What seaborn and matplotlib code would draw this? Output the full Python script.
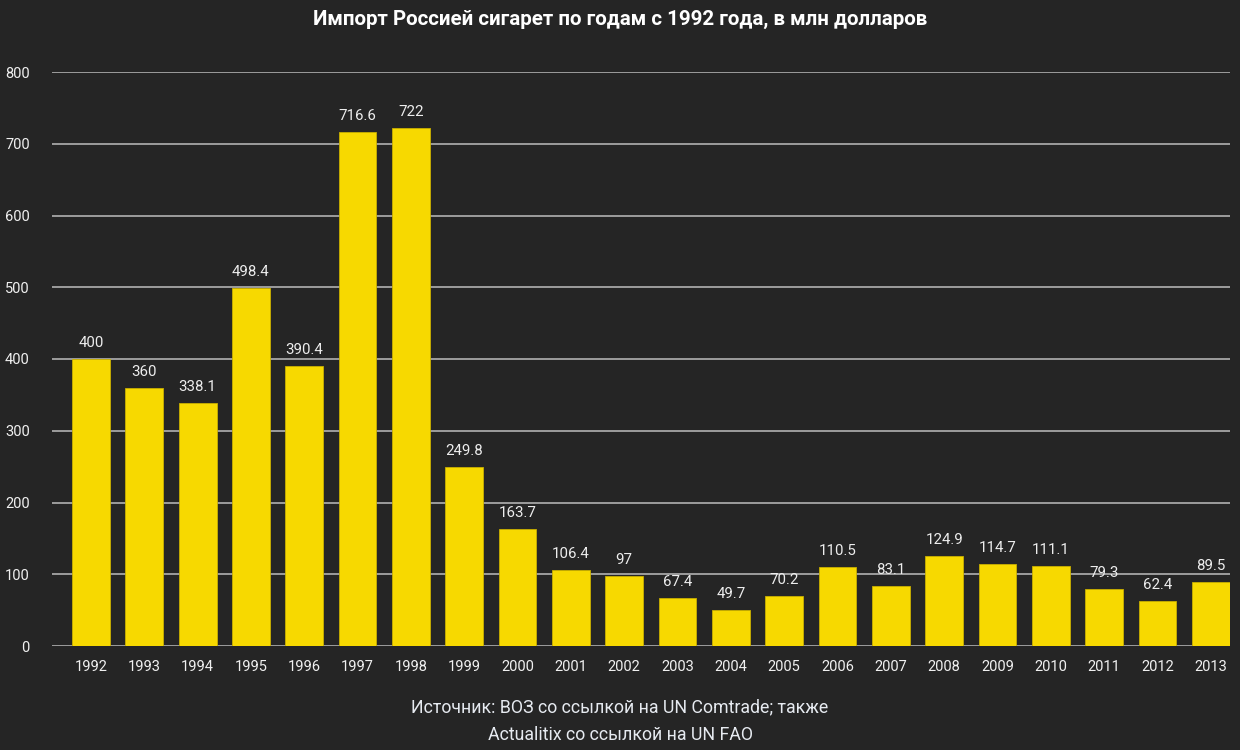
import matplotlib
matplotlib.use("Agg")
import matplotlib.pyplot as plt
import seaborn as sns
import pandas as pd

years = ["1992", "1993", "1994", "1995", "1996", "1997", "1998", "1999", "2000", "2001", "2002",
         "2003", "2004", "2005", "2006", "2007", "2008", "2009", "2010", "2011", "2012", "2013"]
values = [400, 360, 338.1, 498.4, 390.4, 716.6, 722, 249.8, 163.7, 106.4, 97,
          67.4, 49.7, 70.2, 110.5, 83.1, 124.9, 114.7, 111.1, 79.3, 62.4, 89.5]
labels = ["400", "360", "338.1", "498.4", "390.4", "716.6", "722", "249.8", "163.7", "106.4", "97",
          "67.4", "49.7", "70.2", "110.5", "83.1", "124.9", "114.7", "111.1", "79.3", "62.4", "89.5"]
yticks = [0, 100, 200, 300, 400, 500, 600, 700, 800]

title = "Импорт Россией сигарет по годам с 1992 года, в млн долларов"
source_lines = ["Источник: ВОЗ со ссылкой на UN Comtrade; также",
                "Actualitix со ссылкой на UN FAO"]

BG = "#252525"
BAR = "#F7D900"
GRID = "#BDBDBD"

sns.set_theme(style="dark")
plt.rcParams["font.family"] = ["Roboto", "DejaVu Sans"]

df = pd.DataFrame({"year": years, "value": values})

fig = plt.figure(figsize=(12.4, 7.5), dpi=100, facecolor=BG)
ax = fig.add_axes([52/1240, 1 - 646/750, (1230 - 52)/1240, (646 - 72)/750])
ax.set_facecolor(BG)

sns.barplot(data=df, x="year", y="value", color=BAR, saturation=1, width=0.71,
            edgecolor="#C9B000", linewidth=0.6, ax=ax, zorder=3)

ax.set_ylim(0, 800)
ax.set_xlim(-0.73, 21.36)
ax.set_yticks(yticks)
ax.yaxis.grid(True, color=GRID, linewidth=1.1, zorder=0)
ax.xaxis.grid(False)
for s in ax.spines.values():
    s.set_visible(False)
ax.set_xlabel("")
ax.set_ylabel("")
ax.tick_params(axis="y", length=0, pad=16, labelsize=10.5, labelcolor="#F0F0F0")
ax.tick_params(axis="x", length=0, pad=10, labelsize=10.5, labelcolor="#F0F0F0")

for i, (v, t) in enumerate(zip(values, labels)):
    ax.annotate(t, (i, v), xytext=(0, 6.5), textcoords="offset points",
                ha="center", va="bottom", fontsize=10.8, color="#EDEDED", zorder=4)

fig.text(0.5, 1 - 19/750, title, ha="center", va="center", fontsize=14.8,
         fontweight="bold", color="white")
fig.text(0.5, 1 - 707/750, source_lines[0], ha="center", va="center", fontsize=12.8,
         color="#E6EAF0")
fig.text(0.5, 1 - 735/750, source_lines[1], ha="center", va="center", fontsize=12.8,
         color="#E6EAF0")

fig.savefig("out.png", dpi=100, facecolor=BG)
